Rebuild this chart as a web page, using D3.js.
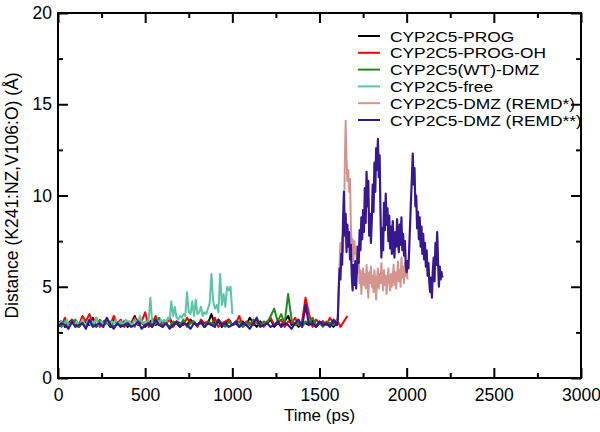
<!DOCTYPE html>
<html lang="en">
<head>
<meta charset="UTF-8">
<title>Distance vs time</title>
<style>
  * { margin: 0; padding: 0; }
  body { background: #fff; }
  svg { display: block; font-family: "Liberation Sans", Arial, Helvetica, sans-serif; }
  .axis path, .axis line { stroke: #000; }
  .axis text { font-size: 17.5px; fill: #000; }
  .legend text { font-size: 15.5px; }
</style>
<script src="https://cdn.jsdelivr.net/npm/d3@7"></script>
</head>
<body>
<div id="chart"></div>
<script>
// ---- data ----
var names = ['CYP2C5-PROG', 'CYP2C5-PROG-OH', 'CYP2C5(WT)-DMZ', 'CYP2C5-free',
             'CYP2C5-DMZ (REMD*)', 'CYP2C5-DMZ (REMD**)'];
var colors = ['#000000', '#ff0000', '#1d8c1d', '#5cc5a5', '#d4958f', '#36198f'];

var xTicks = [0, 500, 1000, 1500, 2000, 2500, 3000];
var yTicks = [0, 5, 10, 15, 20];

// each segment: start time (ps), step (ps), distances (A)
var prog = [
  3.0, 3.1, 2.8, 3.0, 3.2, 2.9, 2.8, 3.1, 3.0, 2.9, 3.3, 2.8, 3.0, 2.9, 3.1, 2.8, 3.2, 3.0, 2.9, 3.1,
  2.8, 3.0, 3.4, 2.9, 3.1, 2.8, 3.0, 3.2, 2.9, 3.0, 2.8, 3.1, 3.3, 2.9, 3.0, 2.8, 3.1, 2.9, 3.2, 3.0,
  2.9, 3.1, 2.8, 3.0, 3.5, 2.9, 3.1, 2.8, 3.0, 3.2, 2.9, 3.0, 2.8, 3.1, 2.9, 3.3, 3.0, 2.8, 3.1, 2.9,
  3.0, 3.2, 2.8, 3.0, 2.9, 3.1, 3.4, 2.9, 3.0, 2.8, 3.1, 3.0, 2.9, 3.2, 2.8, 3.0, 3.1, 2.9, 3.0, 2.8, 3.0
];
var progOH = [
  3.1, 2.9, 3.3, 2.8, 3.2, 3.0, 2.9, 3.4, 3.1, 3.5, 3.0, 3.3, 2.8, 3.1, 3.2, 2.9, 3.4, 3.0, 3.2, 2.8,
  3.1, 3.0, 3.3, 2.9, 3.1, 3.6, 2.8, 3.0, 3.4, 2.9, 3.1, 3.0, 3.2, 2.8, 3.1, 3.0, 2.9, 3.3, 3.0, 3.1,
  2.8, 3.2, 3.0, 3.1, 2.9, 3.3, 2.8, 3.0, 3.1, 3.2, 2.9, 3.0, 3.4, 2.8, 3.1, 3.0, 2.9, 3.2, 3.0, 2.8,
  3.1, 3.3, 2.9, 3.0, 3.2, 2.8, 3.1, 3.0, 3.3, 2.9, 3.1, 4.4, 3.5, 2.8, 3.2, 3.0, 3.1, 2.9, 3.3, 3.0,
  3.2, 2.8, 3.1, 3.4
];
var wtDMZ = [
  3.0, 2.8, 3.1, 2.9, 3.0, 3.2, 2.8, 3.0, 2.9, 3.1, 3.0, 2.8, 3.2, 2.9, 3.0, 3.1, 2.8, 3.0, 2.9, 3.1,
  2.9, 3.0, 2.8, 3.2, 3.0, 2.9, 3.1, 2.8, 3.0, 3.3, 2.9, 3.0, 2.8, 3.1, 3.0, 2.9, 3.2, 2.8, 3.0, 3.1,
  2.9, 3.0, 2.8, 3.1, 3.0, 2.9, 3.2, 3.0, 2.8, 3.1, 2.9, 3.0, 3.1, 2.8, 3.0, 2.9, 3.2, 3.0, 2.9, 3.1,
  3.0, 3.4, 3.8, 3.1, 3.5, 3.0, 4.6, 3.2, 2.9, 3.0, 2.8, 3.1, 3.0, 3.3, 2.9, 3.0, 2.8, 3.1, 3.0, 2.9, 3.0
];
var free = [
  2.9, 3.0, 3.1, 2.9, 3.0, 3.2, 2.9, 3.0, 3.1, 2.9,
  3.0, 3.1, 2.9, 3.0, 3.2, 3.0, 2.9, 3.1, 3.0, 2.9,
  3.1, 3.0, 3.3, 2.9, 3.0, 3.1, 2.9, 3.0, 3.2, 3.0,
  2.9, 3.1, 3.0, 3.2, 2.9, 3.0, 3.1, 3.0, 2.9, 3.2,
  3.0, 3.1, 2.9, 3.0, 3.2, 3.1, 3.0, 3.4, 3.1, 3.0,
  3.1, 3.0, 3.2, 4.4, 3.1, 3.0, 3.2, 3.1, 3.0, 3.2,
  3.1, 3.2, 3.0, 3.3, 3.2, 4.2, 3.4, 3.9, 3.3, 3.2,
  3.4, 3.3, 3.5, 3.4, 4.7, 3.6, 3.5, 4.2, 3.4, 4.3,
  3.5, 3.6, 3.9, 3.4, 3.6, 3.5, 3.8, 4.1, 5.7, 4.2,
  3.8, 4.0, 3.6, 5.7, 4.0, 4.6, 3.9, 5.0, 4.8, 5.0,
  3.5
];
var remd1 = [
  3.0, 3.4, 4.6, 6.2, 7.4, 6.8, 7.7, 6.9, 8.2, 11.6,
  14.1, 12.0, 10.8, 11.4, 10.2, 10.9, 8.4, 7.1, 7.6, 6.4,
  7.5, 6.8, 7.2, 6.1, 5.8, 6.4, 5.2, 5.9, 4.6, 5.5,
  6.0, 5.1, 5.7, 4.9, 6.2, 5.4, 4.4, 5.8, 5.2, 6.1,
  5.0, 5.6, 4.7, 5.9, 5.3, 4.3, 5.5, 6.0, 4.9, 5.7,
  5.2, 6.3, 5.5, 4.8, 5.9, 5.1, 5.6, 4.6, 5.4, 6.0,
  5.3, 4.8, 5.7, 5.0, 5.5, 6.2, 5.1, 5.8, 4.9, 5.6,
  6.4, 5.3, 5.9, 5.0, 6.6, 5.5, 6.1, 5.2, 6.3, 5.6,
  6.1, 5.4
];
var remd2Eq = [
  2.8, 3.0, 2.9, 2.7, 3.1, 2.8, 2.9, 3.0, 2.7, 3.2, 2.8, 2.9, 3.0, 2.8, 3.3, 2.9, 2.7, 3.0, 2.8, 2.9,
  3.0, 2.8, 2.9, 3.1, 2.7, 2.9, 3.0, 2.8, 3.2, 2.9, 2.8, 3.0, 2.7, 2.9, 3.1, 2.8, 3.0, 2.9, 2.7, 3.0,
  2.9, 3.1, 2.8, 3.0, 2.9, 2.8, 3.2, 2.9, 3.0, 2.8, 2.9, 3.1, 2.8, 3.0, 2.9, 2.7, 3.0, 3.3, 2.8, 2.9,
  3.0, 2.8, 2.9, 3.1, 2.8, 3.0, 2.9, 2.7, 3.0, 3.2, 2.8, 4.0, 2.9, 3.0, 2.8, 3.1, 2.9, 3.0, 2.8, 3.2
];
var remd2 = [
  2.9, 3.2, 4.8, 6.0, 5.4, 6.8, 6.2, 8.6, 10.2, 7.8,
  9.0, 6.9, 8.4, 7.2, 8.0, 6.5, 7.3, 5.6, 4.8, 6.2,
  5.1, 6.4, 4.9, 6.0, 7.2, 6.3, 8.1, 7.0, 8.8, 7.6,
  9.2, 8.0, 10.4, 8.5, 11.3, 9.4, 10.8, 7.8, 9.0, 7.4,
  8.6, 10.6, 9.1, 11.8, 10.2, 12.6, 11.4, 13.1, 11.0, 12.2,
  9.0, 6.6, 8.2, 7.0, 9.6, 8.1, 10.1, 8.4, 9.3, 7.5,
  8.9, 7.1, 8.3, 6.8, 8.6, 7.4, 6.6, 8.0, 7.2, 8.7,
  7.6, 6.9, 8.4, 7.3, 8.8, 7.0, 7.9, 6.7, 7.5, 6.2,
  5.8, 6.4, 6.0, 7.2, 8.5, 9.8, 11.0, 12.3, 10.6, 11.5,
  9.4, 10.0, 8.2, 9.1, 7.6, 8.8, 7.2, 8.3, 6.8, 7.9,
  6.5, 7.4, 6.1, 7.0, 5.6, 6.3, 5.2, 4.7, 5.5, 4.4,
  5.9, 6.6, 5.3, 7.4, 6.2, 8.0, 6.4, 5.0, 6.1, 5.4,
  5.8, 5.5
];

var series = [
  [{ t0: 0, dt: 20, v: prog }],
  [{ t0: 0, dt: 20, v: progOH }],
  [{ t0: 0, dt: 20, v: wtDMZ }],
  [{ t0: 0, dt: 10, v: free }],
  [{ t0: 1600, dt: 5, v: remd1 }],
  [{ t0: 0, dt: 20, v: remd2Eq }, { t0: 1600, dt: 5, v: remd2 }]
];

// ---- layout ----
var w = 600, h = 432,
    margin = { left: 58, right: 19, top: 13, bottom: 54 };

var svg = d3.select('#chart').append('svg')
    .attr('width', w)
    .attr('height', h);

var x = d3.scaleLinear().domain([0, 3000]).range([margin.left, w - margin.right]);
var y = d3.scaleLinear().domain([0, 20]).range([h - margin.bottom, margin.top]);

var xMinor = d3.range(250, 3000, 500);
var yMinor = d3.range(2.5, 20, 5);

// ticks point inwards on all four sides
function addAxis(axisFn, scale, vals, size, labels, tx, ty) {
  var a = axisFn(scale).tickValues(vals).tickSizeInner(-size).tickSizeOuter(0)
      .tickFormat(labels ? d3.format('d') : '');
  var g = svg.append('g')
      .attr('class', 'axis')
      .attr('transform', 'translate(' + tx + ',' + ty + ')')
      .call(a);
  g.select('.domain').remove();
  g.selectAll('line').attr('stroke-width', 2);
  return g;
}
var xb = h - margin.bottom, yl = margin.left;
var gx = addAxis(d3.axisBottom, x, xTicks, 10, true, 0, xb);
gx.selectAll('text').attr('y', 11);
addAxis(d3.axisBottom, x, xMinor, 5, false, 0, xb);
addAxis(d3.axisTop, x, xTicks, 10, false, 0, margin.top);
addAxis(d3.axisTop, x, xMinor, 5, false, 0, margin.top);
var gy = addAxis(d3.axisLeft, y, yTicks, 10, true, yl, 0);
gy.selectAll('text').attr('x', -6);
addAxis(d3.axisLeft, y, yMinor, 5, false, yl, 0);
addAxis(d3.axisRight, y, yTicks, 10, false, w - margin.right, 0);
addAxis(d3.axisRight, y, yMinor, 5, false, w - margin.right, 0);

// lines
var line = d3.line().x(function (d) { return x(d[0]); }).y(function (d) { return y(d[1]); });

series.forEach(function (segs, i) {
  var pts = [];
  segs.forEach(function (s) {
    s.v.forEach(function (v, j) { pts.push([s.t0 + j * s.dt, v]); });
  });
  svg.append('path')
    .datum(pts)
    .attr('fill', 'none')
    .attr('stroke', colors[i])
    .attr('stroke-width', i === 5 ? 2.2 : 2)
    .attr('stroke-linejoin', 'round')
    .attr('d', line);
});

// frame
svg.append('rect')
  .attr('x', margin.left)
  .attr('y', margin.top)
  .attr('width', w - margin.left - margin.right)
  .attr('height', h - margin.top - margin.bottom)
  .attr('fill', 'none')
  .attr('stroke', '#000')
  .attr('stroke-width', 2);

// axis titles
svg.append('text')
  .attr('x', (margin.left + w - margin.right) / 2)
  .attr('y', 421)
  .attr('text-anchor', 'middle')
  .style('font-size', '17px')
  .text('Time (ps)');

svg.append('text')
  .attr('transform', 'translate(18,' + ((margin.top + h - margin.bottom) / 2) + ') rotate(-90)')
  .attr('text-anchor', 'middle')
  .style('font-size', '17.5px')
  .text('Distance (K241:NZ,V106:O) (\u00c5)');

// legend (reference glyphs are a bit wider than Liberation Sans)
var legend = svg.append('g').attr('class', 'legend');
names.forEach(function (n, i) {
  var ly = 36 + i * 16.8;
  legend.append('line')
    .attr('x1', 358).attr('x2', 380)
    .attr('y1', ly).attr('y2', ly)
    .attr('stroke', colors[i])
    .attr('stroke-width', 2);
  legend.append('text')
    .attr('transform', 'translate(390,' + ly + ') scale(1.12,1)')
    .attr('dy', '0.36em')
    .text(n);
});
</script>
</body>
</html>
